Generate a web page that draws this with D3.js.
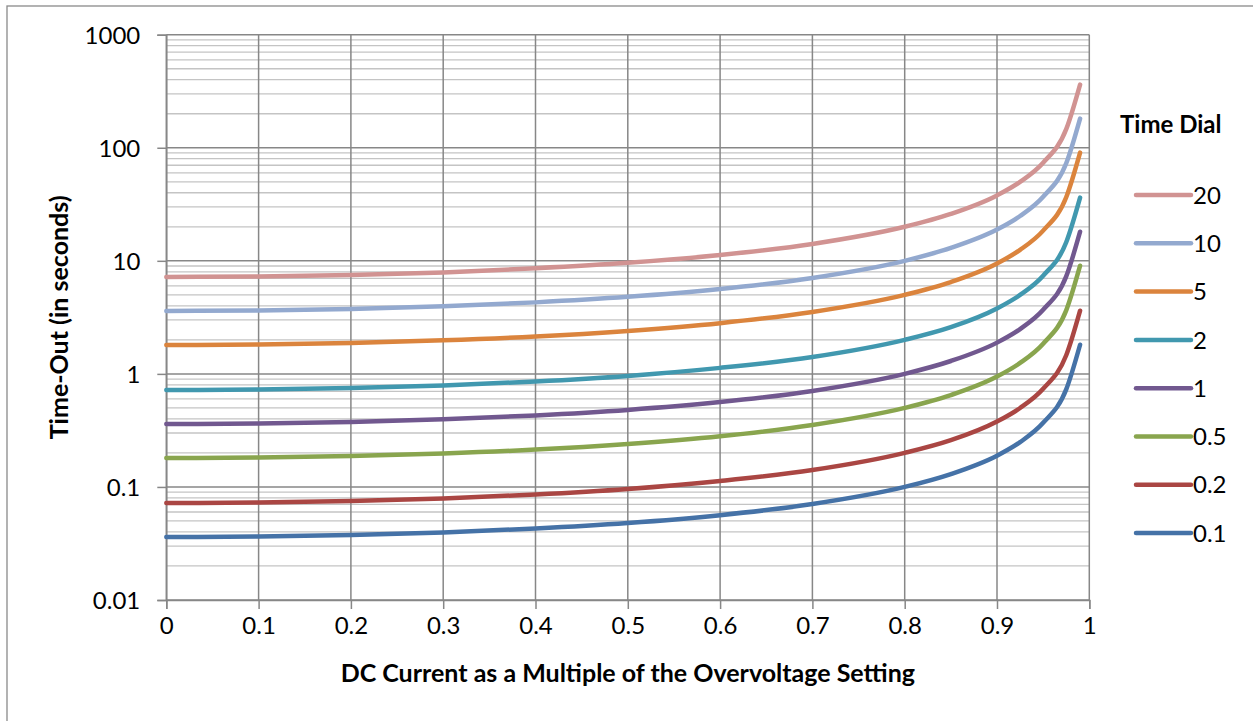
<!DOCTYPE html>
<html>
<head>
<meta charset="utf-8">
<script src="https://cdn.jsdelivr.net/npm/d3@7"></script>
<style>
  body { margin: 0; background: #fff; }
  svg text { font-family: Lato, "Open Sans", sans-serif; fill: #000; }
</style>
</head>
<body>
<script>
"use strict";
// x positions (multiple of overvoltage setting)
const xValues = [0, 0.1, 0.2, 0.3, 0.4, 0.5, 0.6, 0.7, 0.8, 0.85, 0.9, 0.925, 0.95, 0.975, 0.99];
// time-out, one array per time dial
const dial20 = [7.2, 7.27, 7.5, 7.9, 8.6, 9.6, 11.25, 14.1, 20, 26, 37.9, 49.9, 73.8, 146, 362];
const dial10 = [3.6, 3.64, 3.75, 3.96, 4.29, 4.8, 5.63, 7.06, 10, 13, 18.9, 24.9, 36.9, 72.9, 181];
const dial5 = [1.8, 1.82, 1.88, 1.98, 2.14, 2.4, 2.81, 3.53, 5, 6.49, 9.47, 12.5, 18.5, 36.5, 90.5];
const dial2 = [0.72, 0.727, 0.75, 0.791, 0.857, 0.96, 1.13, 1.41, 2, 2.59, 3.79, 4.99, 7.38, 14.6, 36.2];
const dial1 = [0.36, 0.364, 0.375, 0.396, 0.429, 0.48, 0.563, 0.706, 1, 1.3, 1.89, 2.49, 3.69, 7.29, 18.1];
const dial05 = [0.18, 0.182, 0.188, 0.198, 0.214, 0.24, 0.281, 0.353, 0.5, 0.649, 0.947, 1.25, 1.85, 3.65, 9.05];
const dial02 = [0.072, 0.0727, 0.075, 0.0791, 0.0857, 0.096, 0.113, 0.141, 0.2, 0.259, 0.379, 0.499, 0.738, 1.46, 3.62];
const dial01 = [0.036, 0.0364, 0.0375, 0.0396, 0.0429, 0.048, 0.0563, 0.0706, 0.1, 0.13, 0.189, 0.249, 0.369, 0.729, 1.81];

const seriesNames = ["20", "10", "5", "2", "1", "0.5", "0.2", "0.1"];
const seriesValues = [dial20, dial10, dial5, dial2, dial1, dial05, dial02, dial01];
const seriesColors = ["#D19392", "#93A9CF", "#DB843D", "#4198AF", "#71588F", "#89A54E", "#AA4643", "#4572A7"];

const xTicks = [0, 0.1, 0.2, 0.3, 0.4, 0.5, 0.6, 0.7, 0.8, 0.9, 1];
const yTicks = [0.01, 0.1, 1, 10, 100, 1000];
const yTickLabels = ["0.01", "0.1", "1", "10", "100", "1000"];

const w = 1253, h = 721;
const pLeft = 166.3, pRight = 1089.3, pTop = 34.7, pBottom = 600;

const svg = d3.select("body").append("svg").attr("width", w).attr("height", h);

svg.append("rect").attr("x", 7).attr("y", 6).attr("width", 1260).attr("height", 730)
  .attr("fill", "#fff").attr("stroke", "#8a8a8a").attr("stroke-width", 1.3);

const x = d3.scaleLinear().domain([0, 1]).range([pLeft, pRight]);
const y = d3.scaleLog().domain([0.01, 1000]).range([pBottom, pTop]);

// minor horizontal gridlines
const minor = [];
for (let d = 0.01; d < 1000; d *= 10) {
  for (let m = 2; m <= 9; m++) minor.push(d * m);
}
svg.append("g").selectAll("line").data(minor).enter().append("line")
  .attr("x1", pLeft).attr("x2", pRight)
  .attr("y1", d => y(d)).attr("y2", d => y(d))
  .attr("stroke", "#c4c4c4").attr("stroke-width", 1.3);

// major horizontal gridlines
svg.append("g").selectAll("line").data(yTicks).enter().append("line")
  .attr("x1", pLeft).attr("x2", pRight)
  .attr("y1", d => y(d)).attr("y2", d => y(d))
  .attr("stroke", "#878787").attr("stroke-width", 1.5);

// vertical gridlines
svg.append("g").selectAll("line").data(xTicks).enter().append("line")
  .attr("x1", d => x(d)).attr("x2", d => x(d))
  .attr("y1", pTop).attr("y2", pBottom)
  .attr("stroke", "#878787").attr("stroke-width", 1.5);

const xAxis = d3.axisBottom(x).tickValues(xTicks).tickSize(9).tickPadding(8).tickFormat(d => String(d));
const yAxis = d3.axisLeft(y).tickValues(yTicks).tickSize(9).tickPadding(17).tickFormat((d, i) => yTickLabels[i]);

const gx = svg.append("g").attr("transform", "translate(0," + pBottom + ")").call(xAxis);
const gy = svg.append("g").attr("transform", "translate(" + pLeft + ",0)").call(yAxis);
[gx, gy].forEach(g => {
  g.select(".domain").attr("stroke", "#878787").attr("stroke-width", 1.5);
  g.selectAll(".tick line").attr("stroke", "#878787").attr("stroke-width", 1.5);
  g.selectAll(".tick text").attr("font-size", 24).attr("font-family", "Lato, sans-serif").attr("fill", "#000");
});
gy.selectAll(".tick text").attr("dy", "0.36em");

// series lines
const line = d3.line().x((d, i) => x(xValues[i])).y(d => y(d)).curve(d3.curveMonotoneX);
svg.append("g").selectAll("path").data(seriesValues).enter().append("path")
  .attr("d", d => line(d))
  .attr("fill", "none")
  .attr("stroke", (d, i) => seriesColors[i])
  .attr("stroke-width", 4.5)
  .attr("stroke-linecap", "round")
  .attr("stroke-linejoin", "round");

// axis titles
svg.append("text").attr("x", (pLeft + pRight) / 2).attr("y", 682)
  .attr("text-anchor", "middle").attr("font-size", 25).attr("font-weight", "bold")
  .text("DC Current as a Multiple of the Overvoltage Setting");
svg.append("text").attr("transform", "translate(68," + ((pTop + pBottom) / 2) + ") rotate(-90)")
  .attr("text-anchor", "middle").attr("font-size", 25).attr("font-weight", "bold")
  .text("Time-Out (in seconds)");

// legend
svg.append("text").attr("x", 1120).attr("y", 133).attr("font-size", 24).attr("font-weight", "bold").text("Time Dial");
const legend = svg.append("g").selectAll("g").data(seriesNames).enter().append("g")
  .attr("transform", (d, i) => "translate(1136," + (195 + i * 48.3) + ")");
legend.append("line").attr("x1", 0).attr("x2", 55).attr("y1", 0).attr("y2", 0)
  .attr("stroke", (d, i) => seriesColors[i]).attr("stroke-width", 4.5).attr("stroke-linecap", "round");
legend.append("text").attr("x", 57).attr("y", 0).attr("dy", "0.36em").attr("font-size", 24).text(d => d);
</script>
</body>
</html>
